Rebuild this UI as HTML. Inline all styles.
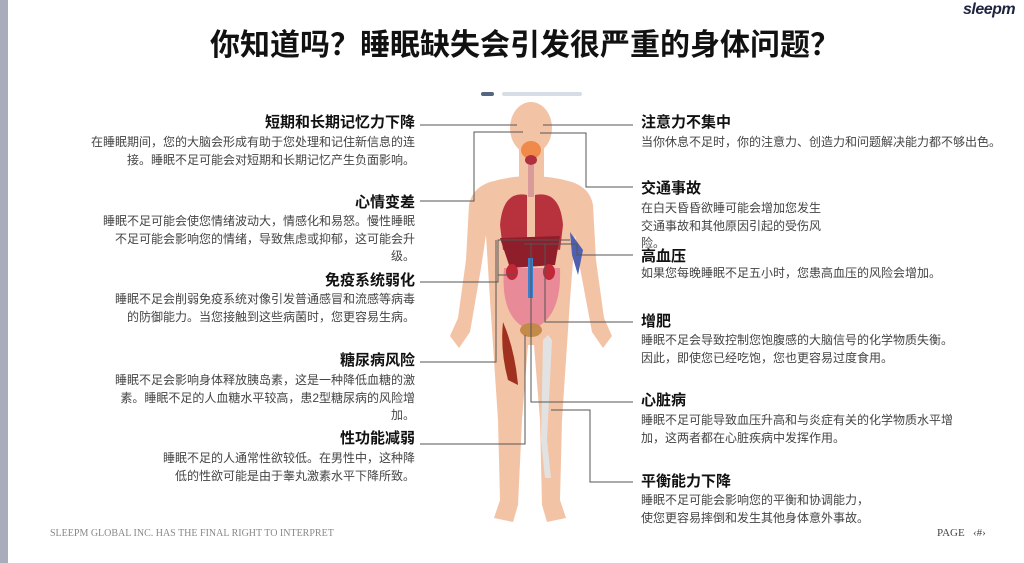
<!DOCTYPE html>
<html><head><meta charset="utf-8"><style>
*{margin:0;padding:0}
body{width:1024px;height:563px;background:#fff;position:relative;overflow:hidden;font-family:"Liberation Sans","Noto Sans CJK SC",sans-serif}
.strip{position:absolute;left:0;top:0;width:8px;height:563px;background:#a9adbb}
.t{position:absolute;white-space:nowrap}
.h{font-weight:bold;font-size:15px;color:#111;line-height:18px}
.b{font-size:12px;color:#444;line-height:17.5px}
.l{right:609px;text-align:right}
.r{left:641px}
</style></head><body>
<div class="strip"></div>
<div class="t" style="left:0;width:1050px;text-align:center;top:20px;font-size:30px;font-weight:bold;color:#111">你知道吗？睡眠缺失会引发很严重的身体问题？</div>
<div class="t" style="left:963px;top:1px;font-size:16px;font-weight:900;color:#1e2440;font-style:italic;letter-spacing:-0.5px">sleepm</div>
<div style="position:absolute;left:481px;top:92px;width:13px;height:4px;border-radius:2px;background:#556680"></div>
<div style="position:absolute;left:502px;top:92px;width:80px;height:4px;border-radius:2px;background:#d8dde5"></div>

<svg style="position:absolute;left:0;top:0" width="1024" height="563">
<g fill="#f3c3a6">
<ellipse cx="531" cy="128" rx="21" ry="26"/>
<rect x="519" y="145" width="25" height="35"/>
<path d="M490 182 Q531 170 572 182 Q590 188 593 205 L596 260 L604 318 L612 336 L603 348 L592 332 L580 268 L575 235 L570 300 L568 330 L562 420 L560 500 L566 518 L547 522 L542 505 L540 420 L534 345 L528 345 L522 420 L518 505 L513 522 L494 518 L500 500 L498 420 L492 330 L490 300 L486 235 L481 268 L470 332 L459 348 L450 336 L458 318 L466 260 L469 205 Q472 188 490 182Z"/>
</g>
<ellipse cx="531" cy="150" rx="10" ry="9" fill="#f08a4a"/>
<ellipse cx="531" cy="160" rx="6" ry="5" fill="#b03040"/>
<rect x="528" y="165" width="6" height="32" fill="#d99a9a"/>
<path d="M527 195 Q503 190 500 225 L503 250 L527 245Z" fill="#b8323e"/>
<path d="M535 195 Q560 190 563 225 L560 250 L535 245Z" fill="#b8323e"/>
<path d="M500 238 L560 236 L555 265 L510 268Z" fill="#8e1f2a"/>
<path d="M504 268 Q500 320 530 330 Q562 320 560 268Z" fill="#e88a98"/>
<ellipse cx="512" cy="272" rx="6" ry="8" fill="#c02838"/>
<ellipse cx="549" cy="272" rx="6" ry="8" fill="#c02838"/>
<rect x="528" y="258" width="5" height="40" fill="#3a7fd0"/>
<ellipse cx="531" cy="330" rx="11" ry="7" fill="#c48a4a"/>
<path d="M503 322 Q515 350 518 385 L508 380 Q500 350 503 322Z" fill="#a03020"/>
<path d="M548 335 L552 340 L547 440 L551 478 L545 478 L541 440 L543 340Z" fill="#e2e2e2"/>
<path d="M570 232 L583 250 L578 275 L572 255Z" fill="#5060b0"/>
<g stroke="#555" stroke-width="1" fill="none">
<path d="M420 125 H517"/>
<path d="M420 201 H474 V132 H523"/>
<path d="M420 282 H498 V240 H570"/>
<path d="M498 275 H515"/>
<path d="M420 362 H496 V240"/>
<path d="M420 444 H525 V335"/>
<path d="M543 125 H633"/>
<path d="M540 133 H586 V187 H633"/>
<path d="M524 244 H577 V255 H633"/>
<path d="M545 244 V322 H633"/>
<path d="M531 243 V402 H633"/>
<path d="M551 410 H590 V482 H633"/>
</g>
</svg>

<div class="t h l" style="top:114px">短期和长期记忆力下降</div>
<div class="t b l" style="top:134px">在睡眠期间，您的大脑会形成有助于您处理和记住新信息的连<br>接。睡眠不足可能会对短期和长期记忆产生负面影响。</div>
<div class="t h l" style="top:194px">心情变差</div>
<div class="t b l" style="top:213px">睡眠不足可能会使您情绪波动大，情感化和易怒。慢性睡眠<br>不足可能会影响您的情绪，导致焦虑或抑郁，这可能会升<br>级。</div>
<div class="t h l" style="top:272px">免疫系统弱化</div>
<div class="t b l" style="top:291px">睡眠不足会削弱免疫系统对像引发普通感冒和流感等病毒<br>的防御能力。当您接触到这些病菌时，您更容易生病。</div>
<div class="t h l" style="top:352px">糖尿病风险</div>
<div class="t b l" style="top:372px">睡眠不足会影响身体释放胰岛素，这是一种降低血糖的激<br>素。睡眠不足的人血糖水平较高，患2型糖尿病的风险增<br>加。</div>
<div class="t h l" style="top:430px">性功能减弱</div>
<div class="t b l" style="top:450px">睡眠不足的人通常性欲较低。在男性中，这种降<br>低的性欲可能是由于睾丸激素水平下降所致。</div>

<div class="t h r" style="top:114px">注意力不集中</div>
<div class="t b r" style="top:134px">当你休息不足时，你的注意力、创造力和问题解决能力都不够出色。</div>
<div class="t h r" style="top:180px">交通事故</div>
<div class="t b r" style="top:200px">在白天昏昏欲睡可能会增加您发生<br>交通事故和其他原因引起的受伤风<br>险。</div>
<div class="t h r" style="top:248px">高血压</div>
<div class="t b r" style="top:265px">如果您每晚睡眠不足五小时，您患高血压的风险会增加。</div>
<div class="t h r" style="top:313px">增肥</div>
<div class="t b r" style="top:332px">睡眠不足会导致控制您饱腹感的大脑信号的化学物质失衡。<br>因此，即使您已经吃饱，您也更容易过度食用。</div>
<div class="t h r" style="top:392px">心脏病</div>
<div class="t b r" style="top:412px">睡眠不足可能导致血压升高和与炎症有关的化学物质水平增<br>加，这两者都在心脏疾病中发挥作用。</div>
<div class="t h r" style="top:473px">平衡能力下降</div>
<div class="t b r" style="top:492px">睡眠不足可能会影响您的平衡和协调能力，<br>使您更容易摔倒和发生其他身体意外事故。</div>

<div class="t" style="left:50px;top:528px;font-family:'Liberation Serif',serif;font-size:10px;color:#888">SLEEPM GLOBAL INC. HAS THE FINAL RIGHT TO INTERPRET</div>
<div class="t" style="left:937px;top:527px;font-family:'Liberation Serif',serif;font-size:11px;color:#444">PAGE&nbsp;&nbsp;&nbsp;‹#›</div>
</body></html>
